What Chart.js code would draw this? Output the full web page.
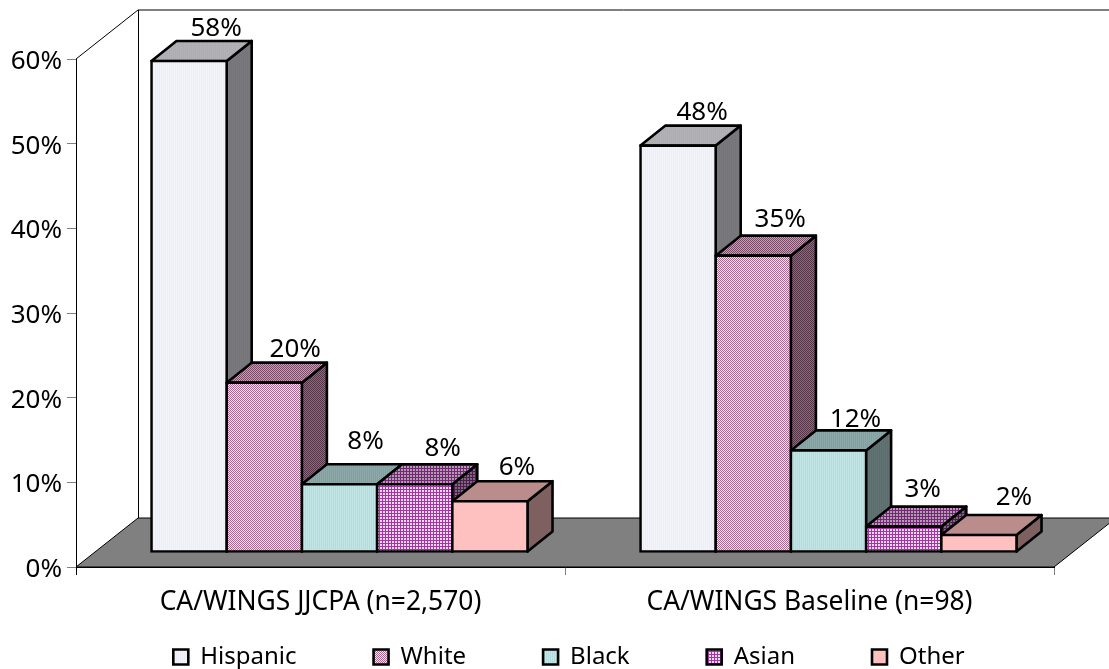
<!DOCTYPE html>
<html><head><meta charset="utf-8">
<style>html,body{margin:0;padding:0;background:#fff}#w{width:1109px;height:669px}</style>
<script src="https://cdn.jsdelivr.net/npm/chart.js@4/dist/chart.umd.js"></script>
</head><body><div id="w"><canvas id="c" width="1109" height="669"></canvas></div>
<script>
const categories = ['CA/WINGS JJCPA (n=2,570)', 'CA/WINGS Baseline (n=98)'];
const seriesNames = ['Hispanic', 'White', 'Black', 'Asian', 'Other'];
const hispanic = [58, 48];
const white = [20, 35];
const black = [8, 12];
const asian = [8, 3];
const other = [6, 2];
const yTicks = [0, 10, 20, 30, 40, 50, 60];

const FONT = 'Noto Sans';
function pat(n, draw){
  const c = document.createElement('canvas'); c.width = c.height = n;
  draw(c.getContext('2d'));
  return c.getContext('2d').createPattern(c, 'repeat');
}
const fills = [
  pat(2, g => { g.fillStyle='#F3F3FA'; g.fillRect(0,0,2,2); g.fillStyle='#EDEDF5'; g.fillRect(0,0,1,2); }),
  pat(2, g => { g.fillStyle='#F4E8EE'; g.fillRect(0,0,2,2); g.fillStyle='#A8688C'; g.fillRect(0,0,1,1); g.fillRect(1,1,1,1); }),
  pat(2, g => { g.fillStyle='#C2E6E6'; g.fillRect(0,0,2,2); g.fillStyle='#B4DCDC'; g.fillRect(0,0,1,2); }),
  pat(3, g => { g.fillStyle='#F3D6F3'; g.fillRect(0,0,3,3); g.fillStyle='#A038A0'; g.fillRect(0,0,3,1); g.fillRect(0,0,1,3); }),
  pat(2, g => { g.fillStyle='#FFC0C0'; g.fillRect(0,0,2,2); })
];
const seriesValues = [hispanic, white, black, asian, other];

const WALL = {dx: 62, dy: -49};   // depth of the box
const PLANE = {dx: 19, dy: -15};  // where the bars stand on the floor
const BAR = {dx: 25, dy: -20};    // depth of one bar
const X_AXIS_HEIGHT = 50;
const labelNudge = [[[0,-2],[-3,-3]],[[4,-3],[0,-6]],[[-1,-12],[0,0]],[[1,-5],[-8,-7]],[[0,-3],[8,-7]]];

const box3d = {
  id: 'box3d',
  afterLayout(chart){
    const lg = chart.legend; const dx = 42, dy = 1 - X_AXIS_HEIGHT;
    lg.left += dx; lg.right += dx; lg.top += dy; lg.bottom += dy;
  },
  beforeDatasetsDraw(chart){
    const {ctx, chartArea:a} = chart;
    const b = a.bottom, t = a.top, l = a.left, r = a.right;
    ctx.save();
    ctx.lineWidth = 1; ctx.strokeStyle = '#000';
    ctx.beginPath();
    ctx.moveTo(l, t); ctx.lineTo(l+WALL.dx, t+WALL.dy); ctx.lineTo(1109, t+WALL.dy);
    ctx.moveTo(l+WALL.dx+.5, t+WALL.dy); ctx.lineTo(l+WALL.dx+.5, b+WALL.dy);
    ctx.stroke();
    ctx.fillStyle = '#808080';
    ctx.beginPath();
    ctx.moveTo(l, b); ctx.lineTo(l+WALL.dx, b+WALL.dy); ctx.lineTo(r+WALL.dx, b+WALL.dy); ctx.lineTo(r, b); ctx.closePath();
    ctx.fill(); ctx.stroke();

    // Left-to-right painting so each bar hides the side of the one before it.
    ctx.translate(PLANE.dx, PLANE.dy);
    const metas = chart.getSortedVisibleDatasetMetas();
    metas.forEach(meta => {
      meta.data.forEach(el => {
        const p = el.getProps(['x','y','base','width'], true);
        const L = p.x - p.width/2, R = p.x + p.width/2, T = p.y, B = p.base;
        const face = (pts, shade) => {
          ctx.beginPath();
          pts.forEach((q,i) => i ? ctx.lineTo(q[0],q[1]) : ctx.moveTo(q[0],q[1]));
          ctx.closePath();
          ctx.fillStyle = fills[meta.index]; ctx.fill();
          ctx.fillStyle = shade; ctx.fill();
          ctx.lineJoin = 'round'; ctx.lineWidth = 2.6; ctx.strokeStyle = '#000'; ctx.stroke();
        };
        face([[R,T],[R+BAR.dx,T+BAR.dy],[R+BAR.dx,B+BAR.dy],[R,B]], 'rgba(0,0,0,.5)');
        face([[L,T],[L+BAR.dx,T+BAR.dy],[R+BAR.dx,T+BAR.dy],[R,T]], 'rgba(0,0,0,.27)');
      });
      meta.controller.draw();
    });
    ctx.font = '26px "'+FONT+'"'; ctx.fillStyle = '#000';
    ctx.textAlign = 'center'; ctx.textBaseline = 'alphabetic';
    metas.forEach(meta => {
      const ds = chart.data.datasets[meta.index];
      meta.data.forEach((el, j) => {
        const n = labelNudge[meta.index][j];
        ctx.fillText(ds.data[j] + '%', el.x + 27 + n[0], el.y + BAR.dy - 3 + n[1]);
      });
    });
    ctx.restore();
    return false;
  }
};

new Chart(document.getElementById('c'), {
  type: 'bar',
  data: {
    labels: categories,
    datasets: seriesNames.map((name, i) => ({
      label: name,
      data: seriesValues[i],
      backgroundColor: fills[i],
      borderColor: '#000',
      borderWidth: 2.6,
      borderSkipped: false,
      inflateAmount: 1.3,
      clip: false
    }))
  },
  plugins: [box3d],
  options: {
    responsive: false,
    animation: false,
    devicePixelRatio: 1,
    barPercentage: 1,
    categoryPercentage: 0.769,
    layout: {padding: {top: 59, right: 55, bottom: -9 - X_AXIS_HEIGHT, left: 0}},
    scales: {
      x: {
        grid: {display: true, drawOnChartArea: false, drawTicks: true, tickLength: 8, offset: true,
               color: c => c.index === 0 ? '#000' : '#808080'},
        border: {display: true, color: '#000', width: 1},
        ticks: {color: '#000', font: {family: FONT, size: 26.4}, padding: 12, maxRotation: 0},
        afterFit(s){ s.height = X_AXIS_HEIGHT; }
      },
      y: {
        min: 0, max: 60,
        grid: {display: true, drawOnChartArea: false, drawTicks: true, tickLength: 9, color: '#808080'},
        border: {display: true, color: '#000', width: 1},
        afterBuildTicks(s){ s.ticks = yTicks.map(v => ({value: v})); },
        ticks: {color: '#000', font: {family: FONT, size: 26}, padding: 5, labelOffset: 2.5, callback: v => v + '%'},
        afterFit(s){ s.width = 76; }
      }
    },
    plugins: {
      title: {display: false},
      tooltip: {enabled: false},
      legend: {
        display: true, position: 'bottom',
        labels: {
          color: '#000', font: {family: FONT, size: 24}, boxWidth: 15, boxHeight: 15, padding: 77
        }
      }
    }
  }
});
</script></body></html>
